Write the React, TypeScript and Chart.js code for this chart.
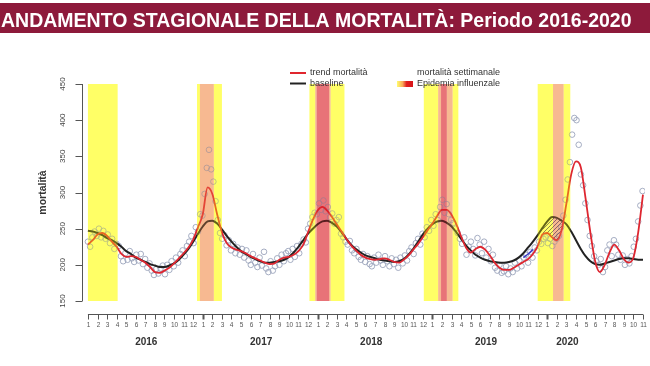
import React, { useEffect, useRef } from "react";
import { Chart, registerables } from "chart.js";
Chart.register(...registerables);

const TITLE = "ANDAMENTO STAGIONALE DELLA MORTALITÀ: Periodo 2016-2020";
const Y_TITLE = "mortalità";
const Y_TICKS = [150, 200, 250, 300, 350, 400, 450];
const YEARS = ["2016", "2017", "2018", "2019", "2020"];
const MONTHS_IN_YEAR = [12, 12, 12, 12, 11];
const YEAR_LABEL_POS = [6.1, 18.1, 29.6, 41.6, 50.1]; // in months since Jan 2016
const LEGEND_TREND = "trend mortalità";
const LEGEND_BASE = "baseline";
const LEGEND_WEEKLY = "mortalità settimanale";
const LEGEND_EPI = "Epidemia influenzale";

// smooth curves sampled every half month from Jan 2016
const GRID_STEP = 0.5;
const TREND = [
  228, 234, 242, 244, 240, 232, 225, 215, 211, 212,
  211, 207, 203, 197, 190, 189, 192, 196, 202, 209,
  216, 224, 235, 252, 270, 307, 298, 270, 245, 230,
  224, 221, 219, 216, 212, 209, 206, 203, 201, 202,
  207, 210, 211, 214, 219, 228, 245, 262, 275, 280,
  275, 266, 256, 246, 236, 227, 220, 214, 210, 208,
  207, 208, 209, 207, 204, 203, 207, 213, 221, 229,
  238, 248, 257, 268, 276, 276, 269, 256, 239, 224,
  217, 222, 225, 221, 213, 203, 196, 193, 193, 196,
  200, 204, 208, 215, 226, 242, 244, 238, 234, 248,
  285, 325, 343, 335, 292, 245, 205, 190, 200, 217,
  228, 220, 208, 203, 210, 245, 297,
];
const BASELINE = [
  247, 246, 244, 241, 237, 234, 230, 225, 219, 215,
  210, 207, 204, 201, 199, 197, 197, 199, 202, 207,
  214, 222, 232, 243, 253, 260, 261, 257, 249, 240,
  232, 225, 219, 215, 211, 208, 205, 203, 203, 204,
  205, 207, 211, 217, 225, 234, 243, 250, 256, 260,
  261, 258, 253, 245, 236, 228, 222, 217, 213, 211,
  209, 207, 206, 205, 204, 205, 208, 214, 222, 232,
  242, 250, 256, 260, 261, 258, 253, 245, 236, 227,
  220, 214, 210, 207, 205, 204, 203, 203, 204, 206,
  210, 216, 224, 232, 241, 251, 260, 266, 265, 261,
  256, 246, 234, 222, 212, 205, 201, 200, 202, 204,
  206, 208, 209, 209, 208, 207, 207,
];
// short blue segment (2019/2020 winter), half-month steps
const BLUE_START = 45.5;
const BLUE = [210, 215, 221];
// hatched zone between baseline and trend (2020)
const HATCH_FROM = 47.5;
const HATCH_TO = 50;

// weekly observed mortality, one value per week from the first week of 2016
const WEEKS_PER_MONTH = 52.18 / 12;
const WEEKLY = [
  // 2016
  232, 225, 238, 246, 240, 250, 238, 247, 236, 242,
  230, 236, 222, 229, 226, 212, 205, 216, 207, 219,
  209, 204, 214, 206, 215, 201, 208, 196, 202, 192,
  186, 194, 188, 195, 199, 187, 200, 193, 205, 198,
  210, 203, 215, 220, 212, 226, 232, 240, 230, 252,
  246, 270,
  // 2017
  268, 298, 334, 359, 332, 315, 288, 262, 244, 236,
  241, 227, 234, 220, 229, 216, 224, 214, 222, 210,
  220, 206, 200, 215, 203, 197, 210, 199, 218, 195,
  190, 205, 192, 198, 209, 200, 214, 205, 216, 219,
  207, 222, 211, 226, 216, 229, 235, 231, 250, 257,
  266, 272,
  // 2018
  270, 285, 276, 289, 274, 280, 266, 271, 257, 262,
  266, 243, 238, 232, 228, 233, 220, 216, 222, 211,
  207, 215, 204, 212, 201, 198, 210, 203, 214, 206,
  200, 212, 205, 198, 209, 201, 207, 196, 210, 202,
  213, 206, 219, 224, 215, 230, 236, 228, 243, 238,
  252, 247,
  // 2019
  262, 254, 270, 262, 280, 290, 272, 284, 270, 262,
  258, 250, 244, 236, 229, 238, 214, 225, 232, 222,
  213, 237, 228, 216, 232, 210, 222, 205, 214, 196,
  192, 200, 189, 191, 198, 187, 195, 190, 203, 195,
  206, 198, 210, 214, 203, 218, 210, 224, 220, 232,
  229, 236,
  // 2020
  238, 230, 236, 226, 232, 236, 240, 252, 268, 290,
  318, 342, 380, 403, 400, 366, 325, 310, 285, 262,
  240, 226, 212, 205, 200, 208, 190, 197, 220, 228,
  212, 234, 228, 214, 207, 213, 200, 208, 202, 212,
  225, 236, 260, 282, 302,
];

// flu epidemic bands (months since Jan 2016), outer -> inner layers
const BAND_LAYERS: [number, number, string][][] = [
  [[0, 3.1, "Y"]],
  [[11.4, 14.0, "Y"], [11.7, 13.15, "S"]],
  [[23.15, 26.8, "Y"], [23.75, 25.35, "S"], [23.9, 25.2, "R"]],
  [[35.1, 38.7, "Y"], [36.6, 38.1, "S"], [36.9, 37.5, "R"]],
  [[47.0, 50.4, "Y"], [48.6, 49.7, "S"]],
];
// solid colour under the curves, and tint laid over them
const BAND_UNDER: Record<string, string> = {
  Y: "rgb(255,255,146)",
  S: "rgb(250,205,176)",
  R: "rgb(238,155,159)",
};
const BAND_TINT: Record<string, string> = {
  Y: "rgb(255,255,0)",
  S: "rgb(243,138,72)",
  R: "rgb(217,22,30)",
};

const FONT = '"Liberation Sans", Arial, Helvetica, sans-serif';

function gridPoints(values: number[], start = 0) {
  return values.map((v, i) => ({ x: start + i * GRID_STEP, y: v }));
}

function paintBands(chart: any, colors: Record<string, string>, alpha: number) {
  const { ctx, chartArea, scales } = chart;
  const x = scales.x;
  ctx.save();
  ctx.beginPath();
  ctx.rect(chartArea.left, chartArea.top, chartArea.right - chartArea.left, chartArea.bottom - chartArea.top);
  ctx.clip();
  ctx.globalAlpha = alpha;
  const top = chartArea.top;
  const h = chartArea.bottom - chartArea.top;
  BAND_LAYERS.forEach((layers) => {
    layers.forEach((layer, i) => {
      const [a, b, c] = layer;
      ctx.fillStyle = colors[c];
      const pa = x.getPixelForValue(a);
      const pb = x.getPixelForValue(b);
      if (i === layers.length - 1) {
        ctx.fillRect(pa, top, pb - pa, h);
      } else {
        const ia = x.getPixelForValue(layers[i + 1][0]);
        const ib = x.getPixelForValue(layers[i + 1][1]);
        ctx.fillRect(pa, top, ia - pa, h);
        ctx.fillRect(ib, top, pb - ib, h);
      }
    });
  });
  ctx.restore();
}

const titlePlugin = {
  id: "titleBar",
  beforeDraw(chart: any) {
    const { ctx, width } = chart;
    ctx.save();
    ctx.fillStyle = "#ffffff";
    ctx.fillRect(0, 0, width, chart.height);
    ctx.fillStyle = "#8d1a3b";
    ctx.fillRect(0, 3, width, 30);
    ctx.fillStyle = "#ffffff";
    ctx.font = `bold 19.5px ${FONT}`;
    ctx.textBaseline = "alphabetic";
    ctx.textAlign = "left";
    ctx.fillText(TITLE, 1, 27);
    ctx.restore();
  },
};

const bandsPlugin = {
  id: "fluBands",
  beforeDatasetsDraw(chart: any) {
    paintBands(chart, BAND_UNDER, 1);
  },
  afterDatasetsDraw(chart: any) {
    paintBands(chart, BAND_TINT, 0.3);
  },
};

const axesPlugin = {
  id: "rAxes",
  afterDraw(chart: any) {
    const { ctx, chartArea, scales } = chart;
    const x = scales.x;
    const y = scales.y;
    ctx.save();
    ctx.strokeStyle = "#555";
    ctx.fillStyle = "#444";
    ctx.lineWidth = 1;
    // y axis
    const ax = chartArea.left + 0.5;
    ctx.beginPath();
    ctx.moveTo(ax, y.getPixelForValue(Y_TICKS[0]));
    ctx.lineTo(ax, y.getPixelForValue(Y_TICKS[Y_TICKS.length - 1]));
    Y_TICKS.forEach((v) => {
      const py = Math.round(y.getPixelForValue(v)) + 0.5;
      ctx.moveTo(ax, py);
      ctx.lineTo(ax - 7, py);
    });
    ctx.stroke();
    ctx.font = `8px ${FONT}`;
    ctx.textAlign = "center";
    ctx.textBaseline = "middle";
    Y_TICKS.forEach((v) => {
      ctx.save();
      ctx.translate(ax - 20, y.getPixelForValue(v));
      ctx.rotate(-Math.PI / 2);
      ctx.fillText(String(v), 0, 0);
      ctx.restore();
    });
    ctx.save();
    ctx.fillStyle = "#333";
    ctx.font = `bold 10.5px ${FONT}`;
    ctx.translate(ax - 39, (chartArea.top + chartArea.bottom) / 2);
    ctx.rotate(-Math.PI / 2);
    ctx.fillText(Y_TITLE, 0, 0);
    ctx.restore();

    // x axis
    const ay = chartArea.bottom + 13.5;
    let idx = 0;
    const totalMonths = MONTHS_IN_YEAR.reduce((s, n) => s + n, 0);
    ctx.beginPath();
    ctx.moveTo(x.getPixelForValue(0), ay);
    ctx.lineTo(x.getPixelForValue(totalMonths - 1), ay);
    ctx.stroke();
    ctx.font = `6.5px ${FONT}`;
    ctx.fillStyle = "#555";
    MONTHS_IN_YEAR.forEach((n, yi) => {
      for (let m = 1; m <= n; m++) {
        const px = Math.round(x.getPixelForValue(idx)) + 0.5;
        ctx.lineWidth = m === 1 && yi > 0 ? 2 : 1;
        ctx.beginPath();
        ctx.moveTo(px, ay);
        ctx.lineTo(px, ay + 5);
        ctx.stroke();
        ctx.fillText(String(m), px, ay + 10.5);
        idx++;
      }
    });
    ctx.font = `bold 10px ${FONT}`;
    ctx.fillStyle = "#333";
    YEARS.forEach((yr, i) => {
      ctx.fillText(yr, x.getPixelForValue(YEAR_LABEL_POS[i]), ay + 28);
    });

    // legend
    ctx.lineWidth = 2;
    ctx.strokeStyle = "#e0262e";
    ctx.beginPath();
    ctx.moveTo(290, 73);
    ctx.lineTo(306, 73);
    ctx.stroke();
    ctx.strokeStyle = "#222";
    ctx.beginPath();
    ctx.moveTo(290, 83.5);
    ctx.lineTo(306, 83.5);
    ctx.stroke();
    const grad = ctx.createLinearGradient(397, 0, 413, 0);
    grad.addColorStop(0, "rgb(255,255,110)");
    grad.addColorStop(0.35, "rgb(250,170,90)");
    grad.addColorStop(0.6, "rgb(225,30,30)");
    grad.addColorStop(1, "rgb(215,20,25)");
    ctx.fillStyle = grad;
    ctx.fillRect(397, 81, 16, 6);
    ctx.fillStyle = "#333";
    ctx.font = `9px ${FONT}`;
    ctx.textAlign = "left";
    ctx.fillText(LEGEND_TREND, 310, 73);
    ctx.fillText(LEGEND_BASE, 310, 83.5);
    ctx.fillText(LEGEND_WEEKLY, 417, 73);
    ctx.fillText(LEGEND_EPI, 417, 83.5);
    ctx.restore();
  },
};

export default function App() {
  const ref = useRef<HTMLCanvasElement | null>(null);
  useEffect(() => {
    if (!ref.current) return;
    const pc = document.createElement("canvas");
    pc.width = 4;
    pc.height = 4;
    const pctx = pc.getContext("2d")!;
    pctx.strokeStyle = "rgba(70,60,110,0.85)";
    pctx.lineWidth = 1;
    pctx.beginPath();
    pctx.moveTo(0, 4);
    pctx.lineTo(4, 0);
    pctx.moveTo(-1, 1);
    pctx.lineTo(1, -1);
    pctx.moveTo(3, 5);
    pctx.lineTo(5, 3);
    pctx.stroke();
    const pattern = pctx.createPattern(pc, "repeat") || "rgba(70,60,110,0.5)";

    const trendPts = gridPoints(TREND);
    const basePts = gridPoints(BASELINE);
    const hatchPts = basePts.filter((p) => p.x >= HATCH_FROM && p.x <= HATCH_TO);
    const bluePts = gridPoints(BLUE, BLUE_START);
    const weeklyPts = WEEKLY.map((v, w) => ({ x: w / WEEKS_PER_MONTH, y: v }));

    const chart = new Chart(ref.current, {
      type: "line",
      data: {
        datasets: [
          {
            label: LEGEND_TREND,
            data: trendPts,
            borderColor: "#de2630",
            borderWidth: 1.8,
            pointRadius: 0,
            cubicInterpolationMode: "monotone",
            fill: false,
            order: 2,
          } as any,
          {
            label: LEGEND_BASE,
            data: basePts,
            borderColor: "#222222",
            borderWidth: 2,
            pointRadius: 0,
            cubicInterpolationMode: "monotone",
            fill: false,
            order: 3,
          },
          {
            label: "hatch",
            data: hatchPts,
            borderWidth: 0,
            borderColor: "rgba(0,0,0,0)",
            pointRadius: 0,
            cubicInterpolationMode: "monotone",
            fill: { target: 0, above: pattern as any, below: "rgba(0,0,0,0)" },
            order: 4,
          },
          {
            label: "blue",
            data: bluePts,
            borderColor: "#3a3ac8",
            borderWidth: 1.5,
            pointRadius: 0,
            cubicInterpolationMode: "monotone",
            fill: false,
            order: 1,
          },
          {
            label: LEGEND_WEEKLY,
            data: weeklyPts,
            showLine: false,
            pointRadius: 2.8,
            pointBorderWidth: 1,
            pointBorderColor: "rgba(150,160,185,0.85)",
            pointBackgroundColor: "rgba(0,0,0,0)",
            order: 5,
          },
        ],
      },
      options: {
        animation: false,
        responsive: false,
        devicePixelRatio: 1,
        layout: { padding: { left: 82, top: 84, right: 0, bottom: 65 } },
        scales: {
          x: { type: "linear", min: -0.62, max: 58.21, display: false },
          y: { type: "linear", min: 150, max: 450, display: false },
        },
        plugins: {
          legend: { display: false },
          tooltip: { enabled: false },
        },
      },
      plugins: [titlePlugin, bandsPlugin, axesPlugin],
    });
    return () => chart.destroy();
  }, []);

  return (
    <div style={{ position: "absolute", left: 0, top: 0, width: 650, height: 366 }}>
      <canvas ref={ref} width={650} height={366} style={{ display: "block" }} />
    </div>
  );
}
